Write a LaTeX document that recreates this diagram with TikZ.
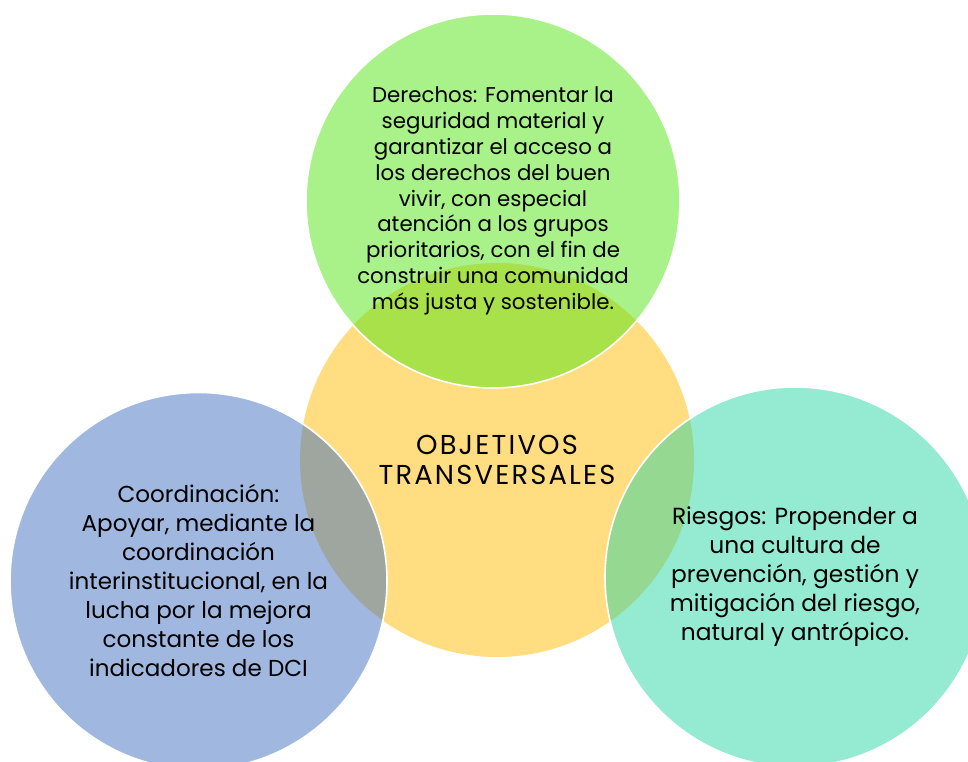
\documentclass[tikz,border=0pt]{standalone}
\usepackage{fontspec}
\setmainfont{Poppins}
\usepackage{xcolor}
\usetikzlibrary{positioning}

\definecolor{centreyellow}{HTML}{FFDD80}
\definecolor{rightsgreen}{HTML}{53E515}
\definecolor{coordblue}{HTML}{4171C1}
\definecolor{risksteal}{HTML}{2BD5A5}

\begin{document}
\begin{tikzpicture}[x=0.75pt, y=-0.75pt,
    bubble/.style={circle, draw=white, line width=1.2pt, fill opacity=0.5,
      text opacity=1, inner sep=0pt, align=center, text=black}]
  \clip (0,0) rectangle (968,762);

  % Centre
  \node[circle, fill=centreyellow, minimum size=295.5pt, inner sep=0pt] (centre) at (497,460) {};
  \node[align=center, font=\fontsize{20.5}{22.5}\selectfont\addfontfeature{LetterSpace=8}] (title) at (497,460)
    {OBJETIVOS\\TRANSVERSALES};

  % Top
  \node[bubble, fill=rightsgreen, minimum size=280.5pt,
    font=\fontsize{16}{19.4}\selectfont] (rights) at (493,201)
    {Derechos: Fomentar la\\seguridad material y\\garantizar el acceso a\\los derechos del buen\\vivir, con especial\\atención a los grupos\\prioritarios, con el fin de\\construir una comunidad\\más justa y sostenible.};

  % Left
  \node[bubble, fill=coordblue, minimum size=282.75pt,
    font=\fontsize{17.3}{21.75}\selectfont] (coord) at (198.5,581)
    {Coordinación:\\Apoyar, mediante la\\coordinación\\interinstitucional, en la\\lucha por la mejora\\constante de los\\indicadores de DCI};

  % Right
  \node[bubble, fill=risksteal, minimum size=285pt,
    font=\fontsize{17.5}{21.75}\selectfont] (risks) at (795,577)
    {Riesgos: Propender a\\una cultura de\\prevención, gestión y\\mitigación del riesgo,\\natural y antrópico.};
\end{tikzpicture}
\end{document}
